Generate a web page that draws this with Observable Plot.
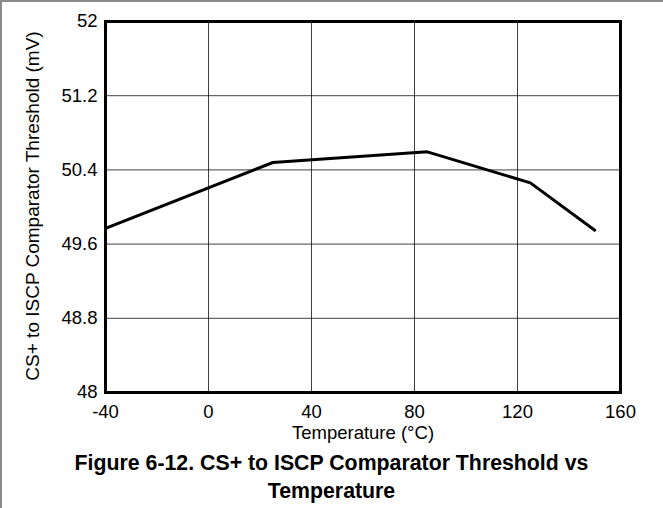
<!DOCTYPE html>
<html>
<head>
<meta charset="utf-8">
<script src="https://cdn.jsdelivr.net/npm/d3@7"></script>
<script src="https://cdn.jsdelivr.net/npm/@observablehq/plot@0.6"></script>
<style>
  html, body { margin: 0; padding: 0; background: #fff; }
  #wrap { position: relative; width: 663px; height: 508px; overflow: hidden; font-family: "Liberation Sans", Arial, sans-serif; }
  #chart { position: absolute; left: 0; top: 0; }
  #title { position: absolute; left: 0; top: 449px; width: 663px; text-align: center; font-weight: bold; font-size: 21.3px; line-height: 28px; color: #000; }
  .bt { position: absolute; left: 0; top: 0; width: 663px; height: 2px; background: #8a8a8a; }
  .bl { position: absolute; left: 0; top: 0; width: 2px; height: 508px; background: #8a8a8a; }
</style>
</head>
<body>
<div id="wrap">
  <div id="chart"></div>
  <div id="title">Figure 6-12. CS+ to ISCP Comparator Threshold vs<br>Temperature</div>
  <div class="bt"></div>
  <div class="bl"></div>
</div>
<script>
const temperature = [-40, 25, 85, 125, 150];
const threshold = [49.77, 50.48, 50.595, 50.26, 49.75];
const xTicks = [-40, 0, 40, 80, 120, 160];
const yTicks = [48, 48.8, 49.6, 50.4, 51.2, 52];
const xLabel = "Temperature (°C)";
const yLabel = "CS+ to ISCP Comparator Threshold (mV)";

const data = temperature.map((t, i) => ({t, v: threshold[i]}));
const fmtY = d => String(+d.toFixed(1));
const fmtX = d => String(d);

const chart = Plot.plot({
  width: 663,
  height: 445,
  marginLeft: 105,
  marginRight: 43,
  marginTop: 21,
  marginBottom: 53,
  style: {fontFamily: "'Liberation Sans', Arial, sans-serif", fontSize: "18.5px", color: "#000", background: "transparent"},
  x: {domain: [-40, 160]},
  y: {domain: [48, 52]},
  marks: [
    Plot.gridX(xTicks.slice(1, -1), {stroke: "#000", strokeOpacity: 0.75, strokeWidth: 1}),
    Plot.gridY(yTicks.slice(1, -1), {stroke: "#000", strokeOpacity: 0.75, strokeWidth: 1}),
    Plot.line(data, {x: "t", y: "v", stroke: "#000", strokeWidth: 3}),
    Plot.frame({stroke: "#000", strokeWidth: 3}),
    Plot.axisX({ticks: xTicks, tickFormat: fmtX, tickSize: 0, tickPadding: 12, label: null, fontSize: 18.5}),
    Plot.axisY({ticks: yTicks, tickFormat: fmtY, tickSize: 0, tickPadding: 8, label: null, fontSize: 18.5}),
    Plot.text([xLabel], {frameAnchor: "bottom", dy: 41, textAnchor: "middle", lineAnchor: "middle", fontSize: 18.5, fill: "#000"}),
    Plot.text([yLabel], {frameAnchor: "left", dx: -73, dy: -1, rotate: -90, textAnchor: "middle", lineAnchor: "middle", fontSize: 19, fill: "#000"})
  ]
});
document.getElementById("chart").appendChild(chart);
</script>
</body>
</html>
